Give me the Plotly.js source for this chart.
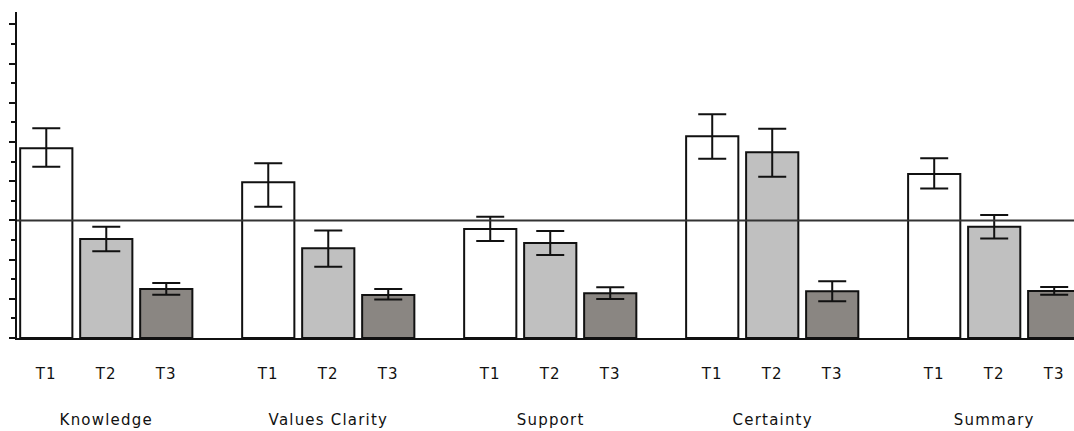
<!DOCTYPE html>
<html>
<head>
<meta charset="utf-8">
<script src="https://cdn.plot.ly/plotly-3.0.1.min.js"></script>
<style>
html, body { margin: 0; padding: 0; background: #fff; }
#chart { width: 1074px; height: 431px; }
#chart .xtick text, #chart .annotation-text { letter-spacing: 1.2px; }
</style>
</head>
<body>
<div id="chart"></div>
<script>
// ---- data ----
var groups = ["Knowledge", "Values Clarity", "Support", "Certainty", "Summary"];
var timeLabels = ["T1", "T2", "T3"];

var t1Values = [9.68, 7.94, 5.56, 10.29, 8.37];
var t1ErrPlus = [1.02, 0.98, 0.63, 1.12, 0.80];
var t1ErrMinus = [0.94, 1.24, 0.61, 1.14, 0.75];

var t2Values = [5.05, 4.58, 4.85, 9.47, 5.68];
var t2ErrPlus = [0.63, 0.90, 0.61, 1.20, 0.60];
var t2ErrMinus = [0.63, 0.95, 0.61, 1.24, 0.61];

var t3Values = [2.50, 2.19, 2.28, 2.38, 2.40];
var t3ErrPlus = [0.30, 0.31, 0.31, 0.51, 0.20];
var t3ErrMinus = [0.30, 0.22, 0.29, 0.51, 0.20];

var referenceValue = 6;

// ---- layout helpers ----
var groupPeriod = 3.7;   // slots per group (3 bars + gap)
var yTop = 16.63;
var fills = ["#ffffff", "#c0c0c0", "#8a8682"];
var ink = "#111111";

var series = [
  {v: t1Values, p: t1ErrPlus, m: t1ErrMinus},
  {v: t2Values, p: t2ErrPlus, m: t2ErrMinus},
  {v: t3Values, p: t3ErrPlus, m: t3ErrMinus}
];

function posOf(groupIndex, timeIndex) { return groupIndex * groupPeriod + timeIndex; }

var traces = series.map(function (s, t) {
  return {
    type: "bar",
    name: timeLabels[t],
    x: groups.map(function (g, i) { return posOf(i, t); }),
    y: s.v,
    width: 0.87,
    marker: { color: fills[t], line: { color: ink, width: 2 } },
    error_y: {
      type: "data", symmetric: false, array: s.p, arrayminus: s.m,
      color: ink, thickness: 2, width: 14
    },
    hoverinfo: "skip"
  };
});

var tickVals = [], tickText = [];
groups.forEach(function (g, i) {
  timeLabels.forEach(function (lab, t) { tickVals.push(posOf(i, t)); tickText.push(lab); });
});

var fontFam = "DejaVu Sans, sans-serif";

var annotations = groups.map(function (g, i) {
  return {
    x: posOf(i, 1), xref: "x", y: 0, yref: "paper",
    yanchor: "middle", xanchor: "center", yshift: -82,
    text: g, showarrow: false,
    font: { family: fontFam, size: 15, color: "#111" }
  };
});

var layout = {
  width: 1074, height: 431,
  margin: { l: 17, r: 0, t: 12, b: 93, pad: 0 },
  paper_bgcolor: "#fff", plot_bgcolor: "#fff",
  showlegend: false,
  barmode: "overlay",
  xaxis: {
    range: [-0.488, 17.13],
    showgrid: false, zeroline: false,
    showline: true, linecolor: ink, linewidth: 2,
    ticks: "", tickvals: tickVals, ticktext: tickText,
    ticklabelstandoff: 21,
    tickfont: { family: fontFam, size: 15, color: "#111" }
  },
  yaxis: {
    range: [0, yTop],
    showgrid: false, zeroline: false,
    showline: true, linecolor: ink, linewidth: 2,
    ticks: "outside", ticklen: 6, tickwidth: 2, tickcolor: ink,
    tick0: 0, dtick: 2, showticklabels: false,
    minor: { dtick: 1, tick0: 0, ticks: "outside", ticklen: 4, tickwidth: 2, tickcolor: ink, showgrid: false }
  },
  shapes: [{
    type: "line", xref: "paper", yref: "paper",
    x0: 0, x1: 1, y0: referenceValue / yTop, y1: referenceValue / yTop,
    line: { color: "#333", width: 2 }, layer: "above"
  }],
  annotations: annotations
};

Plotly.newPlot("chart", traces, layout, { staticPlot: true, displayModeBar: false });
</script>
</body>
</html>
